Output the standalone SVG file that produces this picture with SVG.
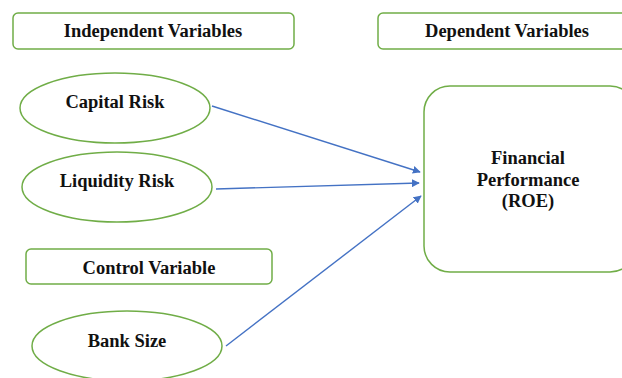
<svg xmlns="http://www.w3.org/2000/svg" width="622" height="378" viewBox="0 0 622 378">
<style>
.box{fill:#fff;stroke:#70AD47;stroke-width:1.5}
.t{font-family:"Liberation Serif","Times New Roman",serif;font-weight:bold;font-size:18.5px;fill:#111;text-anchor:middle}
.c{stroke:#4472C4;stroke-width:1.4;fill:none;marker-end:url(#ah)}
</style>
<defs>
<marker id="ah" viewBox="0 0 10 10" refX="9" refY="5" markerWidth="8" markerHeight="8" markerUnits="userSpaceOnUse" orient="auto">
<path d="M0,0 L10,5 L0,10 z" fill="#4472C4"/>
</marker>
</defs>
<rect width="622" height="378" fill="#fff"/>
<g id="independent">
<rect class="box" x="13" y="13" width="281" height="36" rx="5"/>
<text class="t" x="153" y="37">Independent Variables</text>
</g>
<g id="dependent">
<rect class="box" x="378" y="13" width="260" height="36" rx="5"/>
<text class="t" x="507" y="37">Dependent Variables</text>
</g>
<g id="capital">
<ellipse class="box" cx="115" cy="108" rx="95" ry="35"/>
<text class="t" x="115" y="108">Capital Risk</text>
</g>
<g id="liquidity">
<ellipse class="box" cx="117" cy="187" rx="95" ry="35"/>
<text class="t" x="117" y="187">Liquidity Risk</text>
</g>
<g id="control">
<rect class="box" x="26" y="249" width="246" height="35" rx="5"/>
<text class="t" x="149" y="274">Control Variable</text>
</g>
<g id="banksize">
<ellipse class="box" cx="127" cy="346" rx="95" ry="35"/>
<text class="t" x="127" y="347">Bank Size</text>
</g>
<g id="performance">
<rect class="box" x="424" y="86" width="212" height="186" rx="26"/>
<text class="t" x="528" y="164">Financial</text>
<text class="t" x="528" y="186">Performance</text>
<text class="t" x="528" y="207">(ROE)</text>
</g>
<g id="connectors">
<line class="c" x1="212" y1="106" x2="420" y2="172"/>
<line class="c" x1="216" y1="189" x2="419" y2="183"/>
<line class="c" x1="226" y1="346" x2="421" y2="196"/>
</g>
</svg>
